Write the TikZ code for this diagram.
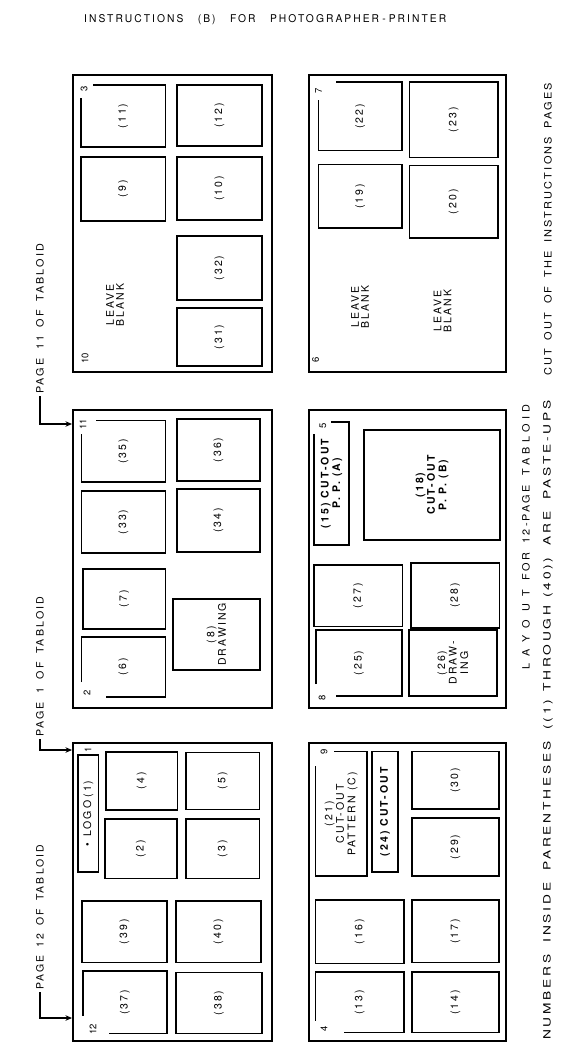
\documentclass[tikz,border=0pt]{standalone}
\usepackage{graphicx}
\usepackage{fontspec}
\setmainfont{TeX Gyre Heros}
\newfontfamily\lsfont[LetterSpace=20]{TeX Gyre Heros}
\newfontfamily\boxfont[LetterSpace=20]{TeX Gyre Heros}
\usetikzlibrary{arrows.meta}

\newcommand{\mybox}[6]{%
  \pgfmathsetmacro{\bxw}{#5-#3}%
  \pgfmathsetmacro{\bxh}{#4-#2}%
  \node[ibox, minimum width=\bxw pt, minimum height=\bxh pt] (#1) at ({(#2+#4)/2},{(#3+#5)/2}) {#6};}
\newcommand{\tlopen}[8]{%
  \draw[obox] (#6,#3) -- (#4,#3) -- (#4,#5) -- (#2,#5) -- (#2,#7);
  \node[lbl] (#1) at ({(#2+#4)/2},{(#3+#5)/2}) {#8};}
\newcommand{\blopen}[8]{%
  \draw[obox] (#2,#7) -- (#2,#3) -- (#4,#3) -- (#4,#5) -- (#6,#5);
  \node[lbl] (#1) at ({(#2+#4)/2},{(#3+#5)/2}) {#8};}
\newcommand{\sizedtext}[3]{\resizebox{#1pt}{#2pt}{\lsfont #3}}

\begin{document}
\begin{tikzpicture}[x=1pt,y=-1pt,
  panel/.style={draw, line width=2.4pt, inner sep=0pt, outer sep=0pt, anchor=north west},
  ibox/.style={draw, line width=1.9pt, rotate=90, inner sep=0pt, outer sep=0pt, align=center,
    font=\boxfont\fontsize{10.5}{11.5}\selectfont},
  obox/.style={draw, line width=1.9pt},
  lbl/.style={rotate=90, inner sep=0pt, align=center, font=\boxfont\fontsize{10.5}{11.5}\selectfont},
  blank/.style={lbl, font=\boxfont\fontsize{10.5}{10}\selectfont},
  pnum/.style={rotate=90, inner sep=0pt, font=\fontsize{9.5}{10}\selectfont},
  sidetext/.style={rotate=90, inner sep=0pt, anchor=west},
  brk/.style={line width=1.4pt, -{Stealth[length=6.5pt,width=5.5pt]}, shorten <=2pt, shorten >=1pt}]
\useasboundingbox (0,0) rectangle (560,1062);

% title
\node[anchor=west, inner sep=0pt] (title) at (84,20)
  {\sizedtext{362}{8}{INSTRUCTIONS\hspace{1.4em}(B)\hspace{1.4em}FOR\hspace{1.4em}PHOTOGRAPHER\hspace{0.3em}-\hspace{0.3em}PRINTER}};

% panels
\node[panel, minimum width=199pt, minimum height=297pt] (pC) at (73,75) {};
\node[panel, minimum width=199pt, minimum height=298pt] (pB) at (73,410) {};
\node[panel, minimum width=199pt, minimum height=298pt] (pA) at (73,743) {};
\node[panel, minimum width=197pt, minimum height=297pt] (pD) at (309,75) {};
\node[panel, minimum width=197pt, minimum height=298pt] (pE) at (309,410) {};
\node[panel, minimum width=197pt, minimum height=298pt] (pF) at (309,743) {};

% panel C : pages 10 / 3
\begin{scope}[shift={(73,75)}]
  \node[pnum] (n3) at (11,14) {3};
  \tlopen{b11}{8}{10}{92.5}{72}{20}{23}{(11)}
  \mybox{b12}{104}{10}{189}{71}{(12)}
  \mybox{b9}{8}{82}{92.5}{146}{(9)}
  \mybox{b10}{104}{82}{189}{145}{(10)}
  \mybox{b32}{104}{161}{189}{225}{(32)}
  \mybox{b31}{104}{233}{189}{291}{(31)}
  \node[blank] (lb1) at (42,230) {LEAVE\\BLANK};
  \node[pnum] (n10) at (12,283) {10};
\end{scope}

% panel B : pages 2 / 11
\begin{scope}[shift={(73,410)}]
  \node[pnum] (n11) at (10,14) {11};
  \tlopen{b35}{8.5}{10.5}{92.5}{72}{23}{24}{(35)}
  \mybox{b36}{104}{9}{187}{71}{(36)}
  \mybox{b33}{8.5}{81}{92.5}{143}{(33)}
  \mybox{b34}{104}{79}{187}{142}{(34)}
  \mybox{b7}{10}{159}{92.5}{219}{(7)}
  \mybox{b8}{100}{189}{187}{260}{(8)\\DRAWING}
  \blopen{b6}{8.5}{227}{92.5}{287}{33}{272}{(6)}
  \node[pnum] (n2) at (14,283) {2};
\end{scope}

% panel A : pages 12 / 1
\begin{scope}[shift={(73,743)}]
  \node[pnum] (n1) at (15,6.5) {1};
  \mybox{blogo}{5}{12}{25.5}{129}{\textbullet\hspace{6pt}LOGO\hspace{3pt}(1)}
  \mybox{b4}{33}{9}{104.5}{67}{(4)}
  \mybox{b2}{32}{76}{104}{135.5}{(2)}
  \mybox{b5}{113}{9.5}{186.5}{66.5}{(5)}
  \mybox{b3}{113}{76}{186.5}{135.5}{(3)}
  \mybox{b39}{9}{158}{94}{219.5}{(39)}
  \mybox{b40}{103}{158}{188}{219.5}{(40)}
  \blopen{b37}{10}{228}{94}{290.5}{36}{272.5}{(37)}
  \mybox{b38}{103}{229.5}{189}{290.5}{(38)}
  \node[pnum] (n12) at (20,286) {12};
\end{scope}

% panel D : pages 6 / 7
\begin{scope}[shift={(309,75)}]
  \node[pnum] (n7) at (9.5,16) {7};
  \tlopen{b22}{9.5}{7}{93}{75.5}{27}{25}{(22)}
  \mybox{b23}{100.5}{7}{189}{82.5}{(23)}
  \mybox{b19}{9.5}{89.5}{93}{153}{(19)}
  \mybox{b20}{100.5}{90.5}{189}{163}{(20)}
  \node[blank] (lb2) at (51,232) {LEAVE\\BLANK};
  \node[blank] (lb3) at (133.5,236) {LEAVE\\BLANK};
  \node[pnum] (n6) at (6.5,285) {6};
\end{scope}

% panel E : pages 8 / 5
\begin{scope}[shift={(309,410)}]
  \node[pnum] (n5) at (14,16) {5};
  \tlopen{b15}{5}{12}{40}{135}{22}{24}{\bfseries (15) CUT-OUT\\\bfseries P. P. (A)}
  \mybox{b18}{55}{20}{191}{130}{\bfseries (18)\\\bfseries CUT-OUT\\\bfseries P. P. (B)}
  \mybox{b27}{5}{155}{93.5}{216.5}{(27)}
  \mybox{b28}{102}{153}{190.5}{218}{(28)}
  \blopen{b25}{7}{220}{93}{286}{27}{274}{(25)}
  \mybox{b26}{100}{220}{188}{286}{(26)\\DRAW-\\ING}
  \node[pnum] (n8) at (13,288) {8};
\end{scope}

% panel F : pages 4 / 9
\begin{scope}[shift={(309,743)}]
  \node[pnum] (n9) at (15,9) {9};
  \tlopen{b21}{6.5}{8.5}{58}{133}{25}{23}{(21)\\CUT-OUT\\PATTERN (C)}
  \mybox{b24}{63}{8.5}{89}{129}{\bfseries (24) CUT-OUT}
  \mybox{b30}{103}{8.5}{190}{66}{(30)}
  \mybox{b29}{103}{75}{190}{133}{(29)}
  \mybox{b16}{6.5}{157}{95}{220.5}{(16)}
  \mybox{b17}{103}{157}{190}{219.5}{(17)}
  \blopen{b13}{6.5}{229}{95}{289.5}{35}{277.5}{(13)}
  \mybox{b14}{103}{229}{190}{289.5}{(14)}
  \node[pnum] (n4) at (15,286) {4};
\end{scope}

% left labels with bracket arrows
\node[sidetext] (lab11) at (40,394)
  {\sizedtext{150}{7.5}{PAGE\hspace{0.8em}11\hspace{0.8em}OF\hspace{0.8em}TABLOID}};
\node[sidetext] (lab1) at (40,737)
  {\sizedtext{140}{7.5}{PAGE\hspace{0.8em}1\hspace{0.8em}OF\hspace{0.8em}TABLOID}};
\node[sidetext] (lab12) at (40,990)
  {\sizedtext{145}{7.5}{PAGE\hspace{0.8em}12\hspace{0.8em}OF\hspace{0.8em}TABLOID}};
\coordinate (k11) at (40,424);
\coordinate (k1) at (40,750);
\coordinate (k12) at (40,1018);
\draw[brk] (lab11.west) -- (k11) -- (k11 -| pB.west);
\draw[brk] (lab1.west) -- (k1) -- (k1 -| pA.west);
\draw[brk] (lab12.west) -- (k12) -- (k12 -| pA.west);

% right texts
\node[sidetext] (layout) at (526,670)
  {\sizedtext{265}{7.5}{{\addfontfeature{LetterSpace=70}LAYOUT}\hspace{0.9em}FOR\hspace{0.9em}12-PAGE\hspace{0.9em}{\addfontfeature{LetterSpace=40}TABLOID}}};
\node[sidetext] (note1) at (548,1040)
  {\sizedtext{639}{7.5}{NUMBERS\hspace{0.9em}INSIDE\hspace{0.9em}PARENTHESES\hspace{0.9em}((1)\hspace{0.6em}THROUGH\hspace{0.6em}(40))\hspace{0.9em}ARE\hspace{0.9em}PASTE-UPS}};
\node[sidetext] (note2) at (548,376)
  {\sizedtext{293}{7.5}{CUT\hspace{0.8em}OUT\hspace{0.8em}OF\hspace{0.8em}THE\hspace{0.8em}INSTRUCTIONS\hspace{0.8em}PAGES}};
\end{tikzpicture}
\end{document}
